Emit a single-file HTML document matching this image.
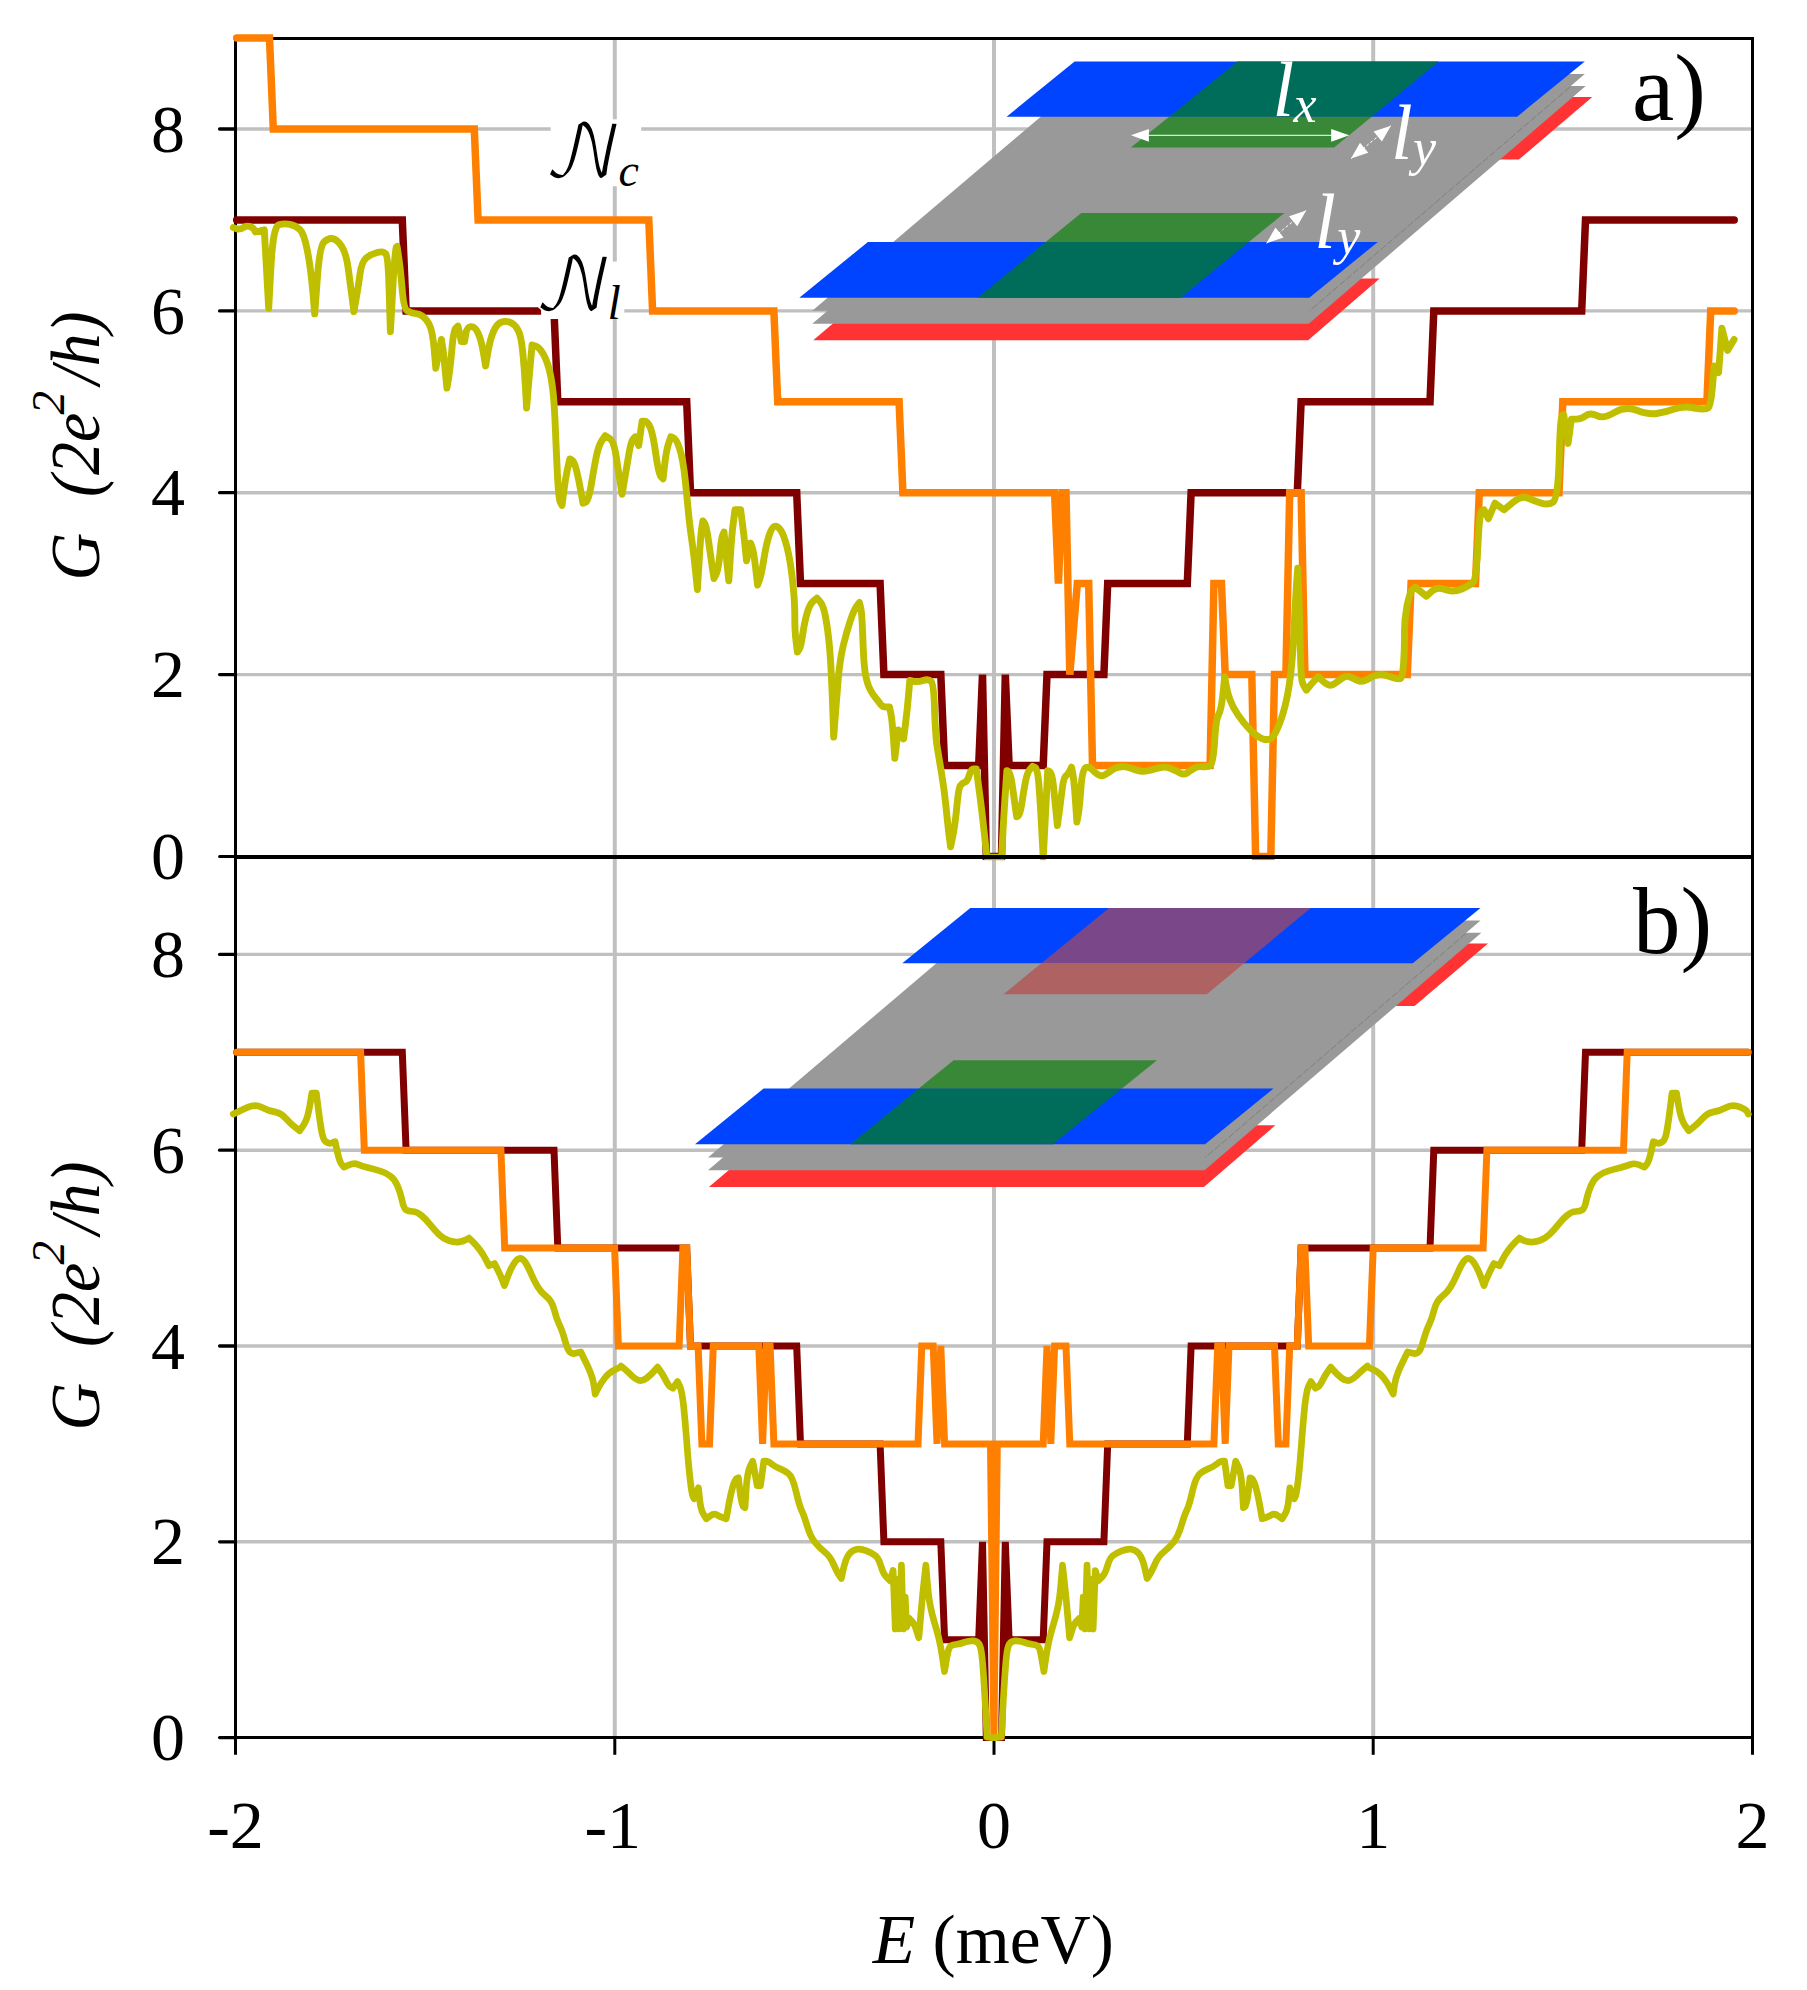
<!DOCTYPE html>
<html><head><meta charset="utf-8"><title>Conductance figure</title>
<style>
html,body{margin:0;padding:0;background:#fff;}
svg{display:block;}
text{font-family:"Liberation Serif","DejaVu Serif",serif;fill:#000;}
.it{font-style:italic;}
.cal{font-family:"DejaVu Math TeX Gyre","Liberation Serif",serif;}
.w{fill:#fff;font-style:italic;}
</style></head><body>
<svg width="1807" height="1990" viewBox="0 0 1807 1990">
<rect width="1807" height="1990" fill="#fff"/>
<g stroke="#c0c0c0" stroke-width="4" fill="none">
<line x1="614.8" y1="38.4" x2="614.8" y2="1737.6"/>
<line x1="994.0" y1="38.4" x2="994.0" y2="1737.6"/>
<line x1="1373.2" y1="38.4" x2="1373.2" y2="1737.6"/>
</g>
<g stroke="#c0c0c0" stroke-width="3.4" fill="none">
<line x1="235.5" y1="674.6" x2="1752.5" y2="674.6"/>
<line x1="235.5" y1="1541.8" x2="1752.5" y2="1541.8"/>
<line x1="235.5" y1="492.7" x2="1752.5" y2="492.7"/>
<line x1="235.5" y1="1346.0" x2="1752.5" y2="1346.0"/>
<line x1="235.5" y1="310.9" x2="1752.5" y2="310.9"/>
<line x1="235.5" y1="1150.2" x2="1752.5" y2="1150.2"/>
<line x1="235.5" y1="129.0" x2="1752.5" y2="129.0"/>
<line x1="235.5" y1="954.4" x2="1752.5" y2="954.4"/>
</g>
<g id="insetA">
<polygon points="1100.0,97.0 1592.3,97.0 1518.9,159.5 1030.0,159.5" fill="#ff3333"/>
<polygon points="886.0,278.6 1379.7,278.6 1308.2,340.3 813.2,340.3" fill="#ff3333"/>
<polygon points="812.3,323.7 1091.0,86.1 1585.7,86.1 1308.8,323.7" fill="#999999"/>
<polygon points="812.3,310.8 1091.0,73.9 1584.8,73.9 1308.8,310.8" fill="#999999"/>
<line x1="1570.0" y1="87.0" x2="1309.5" y2="311.0" stroke="#7c7c7c" stroke-width="0.9" stroke-dasharray="7 2"/>
<polygon points="1074.6,61.5 1584.8,61.5 1517.1,116.7 1006.6,116.7" fill="#0044ff"/>
<polygon points="867.9,242.0 1377.8,242.0 1309.3,297.7 799.3,297.7" fill="#0044ff"/>
<polygon points="1237.5,61.6 1438.7,61.6 1371.7,116.7 1169.2,116.7" fill="#006c5a"/>
<polygon points="1169.2,116.7 1371.7,116.7 1334.1,147.6 1130.9,147.6" fill="#388838"/>
<polygon points="1081.3,212.9 1284.4,212.9 1248.8,242.0 1045.7,242.0" fill="#388838"/>
<polygon points="1045.7,242.0 1248.8,242.0 1180.7,297.7 977.6,297.7" fill="#006c5a"/>
</g>
<g id="insetB">
<polygon points="995.7,943.6 1488.0,943.6 1414.6,1006.1 925.7,1006.1" fill="#ff3333"/>
<polygon points="781.7,1125.2 1275.4,1125.2 1203.9,1186.9 708.9,1186.9" fill="#ff3333"/>
<polygon points="708.0,1170.3 986.7,932.7 1481.4,932.7 1204.5,1170.3" fill="#999999"/>
<polygon points="708.0,1157.4 986.7,920.5 1480.5,920.5 1204.5,1157.4" fill="#999999"/>
<line x1="1465.7" y1="933.6" x2="1205.2" y2="1157.6" stroke="#7c7c7c" stroke-width="0.9" stroke-dasharray="7 2"/>
<polygon points="970.3,908.1 1480.5,908.1 1412.8,963.3 902.3,963.3" fill="#0044ff"/>
<polygon points="763.6,1088.6 1273.5,1088.6 1205.0,1144.3 695.0,1144.3" fill="#0044ff"/>
<polygon points="1109.1,908.1 1310.8,908.1 1244.1,963.3 1041.4,963.3" fill="#7a4888"/>
<polygon points="1041.4,963.3 1244.1,963.3 1206.8,994.2 1003.5,994.2" fill="#ae6262"/>
<polygon points="953.7,1060.2 1157.0,1060.2 1121.9,1088.6 918.7,1088.6" fill="#388838"/>
<polygon points="918.7,1088.6 1121.9,1088.6 1053.0,1144.3 850.2,1144.3" fill="#006c5a"/>
</g>
<g stroke="#000" stroke-width="3.0" fill="none" stroke-linecap="butt">
<line x1="235.5" y1="36.9" x2="235.5" y2="859.0"/>
<line x1="1752.5" y1="36.9" x2="1752.5" y2="859.0"/>
<line x1="235.5" y1="38.4" x2="1752.5" y2="38.4"/>
</g>
<g stroke="#000" stroke-width="3.3" fill="none" stroke-linecap="round">
<line x1="219.6" y1="674.6" x2="235.5" y2="674.6"/>
<line x1="219.6" y1="492.7" x2="235.5" y2="492.7"/>
<line x1="219.6" y1="310.9" x2="235.5" y2="310.9"/>
<line x1="219.6" y1="129.0" x2="235.5" y2="129.0"/>
</g>
<clipPath id="ct"><rect x="0" y="0" width="1807" height="860.3"/></clipPath>
<g clip-path="url(#ct)">
<path d="M236.7 220.0 L402.3 220.0 L406.1 310.9 L554.0 310.9 L557.8 401.8 L686.7 401.8 L690.5 492.7 L796.7 492.7 L800.5 583.6 L880.1 583.6 L883.9 674.6 L940.8 674.6 L944.6 765.5 L978.7 765.5 L982.5 674.6 L986.3 856.4 L1001.5 856.4 L1005.3 674.6 L1009.1 765.5 L1043.2 765.5 L1047.0 674.6 L1103.9 674.6 L1107.7 583.6 L1187.3 583.6 L1191.1 492.7 L1297.3 492.7 L1301.1 401.8 L1430.0 401.8 L1433.8 310.9 L1581.7 310.9 L1585.5 220.0 L1734.2 220.0" fill="none" stroke="#800000" stroke-width="7.5" stroke-linejoin="miter" stroke-miterlimit="3" stroke-linecap="round"/>
<path d="M236.7 38.1 L269.5 38.1 L273.3 129.0 L474.3 129.0 L478.1 220.0 L648.8 220.0 L652.6 310.9 L773.9 310.9 L777.7 401.8 L899.1 401.8 L902.9 492.7 L1054.6 492.7 L1058.4 583.6 L1062.2 492.7 L1066.0 492.7 L1069.8 674.6 L1073.5 629.1 L1077.3 583.6 L1088.7 583.6 L1092.5 765.5 L1210.1 765.5 L1213.9 583.6 L1221.5 583.6 L1225.2 674.6 L1251.8 674.6 L1255.6 856.4 L1270.8 856.4 L1274.5 674.6 L1285.9 674.6 L1289.7 492.7 L1301.1 492.7 L1304.9 674.6 L1407.3 674.6 L1411.1 583.6 L1475.5 583.6 L1479.3 492.7 L1559.0 492.7 L1562.8 401.8 L1706.9 401.8 L1710.7 310.9 L1734.2 310.9" fill="none" stroke="#ff8000" stroke-width="7.5" stroke-linejoin="miter" stroke-miterlimit="3" stroke-linecap="round"/>
<path d="M233.3 227.6 L236.6 228.7 Q239.9 229.8 243.2 227.6 L243.2 227.6 Q246.6 225.4 249.9 226.5 L249.9 226.5 Q253.2 227.6 254.3 229.8 L255.4 232.0 L264.3 229.8 L268.7 308.4 L270.9 267.4 Q273.1 226.5 278.7 224.8 L278.7 224.8 Q284.2 223.2 289.7 224.3 L289.7 224.3 Q295.3 225.4 299.7 229.3 L299.7 229.3 Q304.1 233.1 307.4 250.8 L307.4 250.8 Q310.8 268.5 312.8 291.2 L314.7 313.9 L317.2 280.2 Q319.6 246.4 324.0 242.0 L324.0 242.0 Q328.5 237.6 332.9 238.7 L332.9 238.7 Q337.3 239.8 341.7 246.4 L341.7 246.4 Q346.2 253.0 348.4 269.7 L348.4 269.7 Q350.6 286.3 352.3 299.0 L353.9 311.7 L356.1 299.0 Q358.4 286.3 360.0 274.1 L360.0 274.1 Q361.7 261.9 366.1 258.0 L366.1 258.0 Q370.5 254.2 377.2 252.5 L377.2 252.5 Q383.8 250.8 386.0 254.2 L386.0 254.2 Q388.2 257.5 389.3 294.6 L390.4 331.6 L392.7 290.1 Q394.9 248.6 396.0 247.5 L397.1 246.4 L398.7 257.5 Q400.4 268.5 402.1 288.5 L402.1 288.5 Q403.7 308.4 407.1 310.6 L407.1 310.6 Q410.4 312.8 414.8 313.4 L414.8 313.4 Q419.2 313.9 422.5 316.1 L422.5 316.1 Q425.9 318.4 429.2 324.4 L429.2 324.4 Q432.5 330.5 434.2 349.3 L435.8 368.2 L441.4 339.4 L442.5 346.0 Q443.6 352.7 445.2 370.4 L446.9 388.1 L448.6 378.1 Q450.2 368.2 451.9 349.3 L451.9 349.3 Q453.5 330.5 455.7 328.3 L458.0 326.1 L461.3 341.6 L464.6 341.6 L465.7 334.4 Q466.8 327.2 470.7 326.7 L470.7 326.7 Q474.6 326.1 477.9 332.7 L477.9 332.7 Q481.2 339.4 483.4 352.7 L485.6 365.9 L487.8 352.7 Q490.1 339.4 493.4 331.6 L493.4 331.6 Q496.7 323.9 501.1 322.2 L501.1 322.2 Q505.6 320.6 510.0 322.2 L510.0 322.2 Q514.4 323.9 517.7 329.4 L517.7 329.4 Q521.1 335.0 522.7 351.6 L522.7 351.6 Q524.4 368.2 525.5 388.1 L526.6 408.0 L528.2 388.1 Q529.9 368.2 531.0 356.5 L532.1 344.9 L535.4 346.0 Q538.8 347.1 542.1 352.1 L542.1 352.1 Q545.4 357.1 548.2 365.9 L548.2 365.9 Q550.9 374.8 552.6 388.1 L552.6 388.1 Q554.3 401.4 555.4 429.0 L555.4 429.0 Q556.5 456.7 557.6 477.7 L557.6 477.7 Q558.7 498.8 560.3 502.1 L562.0 505.4 L563.7 492.1 Q565.3 478.8 567.5 468.9 L569.8 458.9 L572.0 460.0 Q574.2 461.1 576.4 470.0 L576.4 470.0 Q578.6 478.8 580.8 491.0 L583.0 503.2 L585.8 502.1 Q588.6 501.0 591.3 484.4 L591.3 484.4 Q594.1 467.8 596.3 456.7 L596.3 456.7 Q598.5 445.6 601.8 440.7 L605.2 435.7 L609.6 438.4 Q614.0 441.2 616.4 457.8 L616.4 457.8 Q618.8 474.4 620.5 484.4 L622.1 494.3 L624.3 481.1 Q626.6 467.8 628.8 454.5 L628.8 454.5 Q631.0 441.2 633.2 439.0 L635.4 436.8 L638.7 445.6 L642.1 421.3 L644.8 421.3 Q647.6 421.3 650.4 427.9 L650.4 427.9 Q653.1 434.6 655.9 454.5 L655.9 454.5 Q658.7 474.4 660.9 476.6 L663.1 478.8 L664.7 464.4 Q666.4 450.1 668.6 443.4 L670.8 436.8 L673.6 437.9 Q676.4 439.0 679.7 449.0 L679.7 449.0 Q683.0 458.9 685.2 479.9 L685.2 479.9 Q687.4 501.0 688.5 513.1 L688.5 513.1 Q689.7 525.3 691.9 540.8 L691.9 540.8 Q694.1 556.3 695.7 572.9 L697.4 589.5 L699.1 561.8 Q700.7 534.2 701.8 527.5 L702.9 520.9 L704.6 523.1 Q706.3 525.3 708.5 540.8 L708.5 540.8 Q710.7 556.3 712.3 567.4 L714.0 578.5 L716.2 574.0 Q718.4 569.6 719.9 554.1 L719.9 554.1 Q721.3 538.6 722.6 535.3 L724.0 532.0 L725.1 544.1 Q726.2 556.3 727.5 568.5 L728.8 580.7 L730.3 557.4 Q731.7 534.2 733.4 522.0 L735.0 509.8 L740.6 509.8 L742.2 522.0 Q743.9 534.2 745.2 547.5 L746.5 560.7 L750.5 543.0 L752.2 547.5 Q753.8 551.9 755.7 568.5 L757.6 585.1 L759.6 579.6 Q761.6 574.0 763.8 559.6 L763.8 559.6 Q766.0 545.2 768.8 536.4 L768.8 536.4 Q771.6 527.5 774.3 526.4 L774.3 526.4 Q777.1 525.3 780.4 529.8 L780.4 529.8 Q783.7 534.2 787.1 547.5 L787.1 547.5 Q790.4 560.7 792.6 580.7 L792.6 580.7 Q794.8 600.6 794.8 615.7 L794.8 615.7 Q794.7 630.8 796.1 641.5 L797.4 652.1 L799.2 649.4 Q800.9 646.8 802.7 634.4 L802.7 634.4 Q804.5 622.0 807.1 613.1 L807.1 613.1 Q809.8 604.3 813.3 601.2 L816.9 598.1 L820.4 602.1 Q824.0 606.0 826.6 622.9 L826.6 622.9 Q829.3 639.7 830.6 661.8 L830.6 661.8 Q831.9 684.0 832.8 710.5 L833.7 737.1 L835.0 719.4 Q836.4 701.7 838.1 680.4 L838.1 680.4 Q839.9 659.2 843.4 645.0 L843.4 645.0 Q847.0 630.8 850.5 620.2 L850.5 620.2 Q854.1 609.6 856.7 606.0 L859.4 602.5 L860.7 607.8 Q862.0 613.1 862.9 639.7 L862.9 639.7 Q863.8 666.3 865.6 675.1 L865.6 675.1 Q867.3 684.0 870.0 689.3 L870.0 689.3 Q872.7 694.6 875.8 698.1 L875.8 698.1 Q878.9 701.7 880.6 704.3 L880.6 704.3 Q882.4 707.0 885.9 707.0 L889.5 707.0 L890.8 713.2 Q892.1 719.4 893.5 738.9 L894.8 758.3 L898.3 730.0 L903.6 738.9 L905.4 724.7 Q907.2 710.5 908.5 695.5 L909.8 680.4 L913.8 681.3 Q917.8 682.2 923.1 680.4 L923.1 680.4 Q928.4 678.6 931.1 681.3 L931.1 681.3 Q933.8 684.0 934.6 710.5 L934.6 710.5 Q935.5 737.1 937.3 747.7 L937.3 747.7 Q939.1 758.3 941.7 774.3 L941.7 774.3 Q944.4 790.2 946.1 807.9 L946.1 807.9 Q947.9 825.6 949.2 836.3 L950.6 846.9 L952.8 836.3 Q955.0 825.6 956.8 807.0 L956.8 807.0 Q958.5 788.4 960.3 785.8 L960.3 785.8 Q962.1 783.1 964.7 782.2 L964.7 782.2 Q967.4 781.4 969.2 775.2 L969.2 775.2 Q970.9 769.0 973.6 769.0 L976.3 769.0 L978.9 788.4 Q981.6 807.9 984.2 832.5 L986.9 857.1 L994.0 857.1 Q1001.0 857.1 1001.3 857.3 L1001.6 857.5 L1002.9 832.7 Q1004.3 807.9 1005.6 789.3 L1006.9 770.7 L1008.7 771.6 Q1010.5 772.5 1012.2 784.9 L1012.2 784.9 Q1014.0 797.3 1015.3 807.0 L1016.7 816.8 L1018.4 815.9 Q1020.2 815.0 1022.0 802.6 L1022.0 802.6 Q1023.8 790.2 1025.5 781.4 L1025.5 781.4 Q1027.3 772.5 1029.9 769.4 L1032.6 766.3 L1035.3 767.6 Q1037.9 769.0 1039.2 788.4 L1039.2 788.4 Q1040.6 807.9 1041.9 832.7 L1043.2 857.5 L1044.1 841.6 Q1045.0 825.6 1046.3 798.2 L1047.7 770.7 L1049.9 771.6 Q1052.1 772.5 1053.4 785.8 L1053.4 785.8 Q1054.7 799.1 1056.1 812.3 L1057.4 825.6 L1059.2 812.3 Q1060.9 799.1 1062.3 788.4 L1062.3 788.4 Q1063.6 777.8 1065.8 776.0 L1065.8 776.0 Q1068.0 774.3 1069.8 770.7 L1071.6 767.2 L1072.9 774.3 Q1074.2 781.4 1075.5 801.7 L1076.9 822.1 L1078.2 815.0 Q1079.5 807.9 1080.9 788.4 L1080.9 788.4 Q1082.2 769.0 1085.7 767.6 L1085.7 767.6 Q1089.3 766.3 1091.9 769.4 L1091.9 769.4 Q1094.6 772.5 1098.1 774.7 L1098.1 774.7 Q1101.7 776.9 1105.2 774.7 L1105.2 774.7 Q1108.8 772.5 1112.3 769.8 L1112.3 769.8 Q1115.8 767.2 1121.1 766.7 L1121.1 766.7 Q1126.5 766.3 1131.8 768.5 L1131.8 768.5 Q1137.1 770.7 1141.5 771.2 L1141.5 771.2 Q1145.9 771.6 1150.4 770.3 L1150.4 770.3 Q1154.8 769.0 1160.1 767.6 L1160.1 767.6 Q1165.4 766.3 1170.7 768.5 L1170.7 768.5 Q1176.0 770.7 1180.0 772.9 L1180.0 772.9 Q1184.0 775.2 1187.1 772.9 L1187.1 772.9 Q1190.2 770.7 1193.8 768.5 L1193.8 768.5 Q1197.3 766.3 1202.6 766.7 L1202.6 766.7 Q1207.9 767.2 1210.6 765.4 L1210.6 765.4 Q1213.2 763.6 1214.6 741.5 L1214.6 741.5 Q1215.9 719.4 1218.5 714.9 L1218.5 714.9 Q1221.2 710.5 1223.0 693.7 L1224.7 676.9 L1226.1 684.8 Q1227.4 692.8 1230.1 699.9 L1230.1 699.9 Q1232.7 707.0 1238.0 714.9 L1238.0 714.9 Q1243.3 722.9 1250.4 730.0 L1250.4 730.0 Q1257.5 737.1 1262.8 738.9 L1262.8 738.9 Q1268.1 740.6 1271.7 738.0 L1271.7 738.0 Q1275.2 735.3 1280.3 721.5 L1280.3 721.5 Q1285.5 707.6 1288.8 687.7 L1288.8 687.7 Q1292.1 667.8 1293.8 634.6 L1293.8 634.6 Q1295.4 601.4 1296.5 584.8 L1297.7 568.2 L1298.8 595.8 Q1299.9 623.5 1300.4 651.2 L1300.4 651.2 Q1301.0 678.8 1302.4 682.5 L1302.4 682.5 Q1303.8 686.1 1305.1 688.1 L1306.4 690.1 L1309.1 686.8 Q1311.7 683.4 1315.0 680.1 L1318.4 676.8 L1321.7 680.1 Q1325.0 683.4 1328.3 684.8 L1328.3 684.8 Q1331.6 686.1 1335.0 683.4 L1335.0 683.4 Q1338.3 680.8 1342.3 678.1 L1342.3 678.1 Q1346.3 675.5 1349.6 676.8 L1349.6 676.8 Q1352.9 678.1 1356.9 680.1 L1356.9 680.1 Q1360.9 682.1 1364.2 680.8 L1364.2 680.8 Q1367.5 679.5 1370.8 677.5 L1370.8 677.5 Q1374.1 675.5 1378.1 674.8 L1378.1 674.8 Q1382.1 674.1 1386.1 675.5 L1386.1 675.5 Q1390.1 676.8 1394.7 678.1 L1394.7 678.1 Q1399.4 679.5 1401.0 678.1 L1401.0 678.1 Q1402.7 676.8 1403.7 661.5 L1403.7 661.5 Q1404.7 646.3 1404.5 633.2 L1404.5 633.2 Q1404.3 620.1 1407.0 605.9 L1407.0 605.9 Q1409.8 591.7 1412.6 589.5 L1415.3 587.3 L1426.4 596.2 L1431.9 591.2 Q1437.5 586.2 1445.2 589.5 L1445.2 589.5 Q1453.0 592.8 1461.8 589.0 L1461.8 589.0 Q1470.7 585.1 1473.4 581.8 L1473.4 581.8 Q1476.2 578.5 1477.9 545.2 L1477.9 545.2 Q1479.5 512.0 1481.7 510.9 L1484.0 509.8 L1488.4 518.7 L1495.0 503.2 L1503.9 509.8 L1512.7 502.6 Q1521.6 495.4 1528.2 498.2 L1528.2 498.2 Q1534.9 501.0 1541.5 503.2 L1541.5 503.2 Q1548.2 505.4 1553.1 502.1 L1553.1 502.1 Q1558.1 498.8 1559.2 457.8 L1559.2 457.8 Q1560.3 416.9 1562.0 415.7 L1563.7 414.6 L1568.1 443.4 L1571.4 419.1 L1576.4 419.1 Q1581.4 419.1 1585.8 415.7 L1585.8 415.7 Q1590.2 412.4 1596.9 415.7 L1596.9 415.7 Q1603.5 419.1 1614.6 412.4 L1614.6 412.4 Q1625.6 405.8 1636.7 410.2 L1636.7 410.2 Q1647.8 414.6 1656.6 413.5 L1656.6 413.5 Q1665.5 412.4 1674.3 409.1 L1674.3 409.1 Q1683.2 405.8 1694.3 408.0 L1694.3 408.0 Q1705.3 410.2 1708.1 408.0 L1708.1 408.0 Q1710.9 405.8 1712.5 385.9 L1714.2 365.9 L1718.6 372.6 L1721.9 328.3 L1727.5 350.4 L1734.1 339.4" fill="none" stroke="#bfbf00" stroke-width="6.9" stroke-linejoin="round" stroke-linecap="round"/>
</g>
<rect x="550.7" y="119.3" width="90.5" height="66.9" fill="#fff"/>
<rect x="541.1" y="261.6" width="83.2" height="57.4" fill="#fff"/>
<text x="543.2" y="176.9" font-size="72" class="cal" stroke="#fff" stroke-width="1.7">&#x1D4A9;</text>
<text x="618.4" y="185.7" font-size="46" class="it">c</text>
<text x="533.6" y="309.5" font-size="72" class="cal" stroke="#fff" stroke-width="1.7">&#x1D4A9;</text>
<text x="607.4" y="319.4" font-size="48" class="it">l</text>
<line x1="235.5" y1="857" x2="1754.0" y2="857" stroke="#000" stroke-width="4"/>
<g stroke="#000" stroke-width="3.0" fill="none" stroke-linecap="round">
<line x1="219.6" y1="856.5" x2="235.5" y2="856.5"/>
</g>
<g stroke="#000" stroke-width="3.0" fill="none" stroke-linecap="butt">
<line x1="235.5" y1="857.0" x2="235.5" y2="1754.8"/>
<line x1="1752.5" y1="857.0" x2="1752.5" y2="1754.8"/>
<line x1="235.5" y1="1737.6" x2="1752.5" y2="1737.6"/>
</g>
<g stroke="#000" stroke-width="3.3" fill="none" stroke-linecap="round">
<line x1="219.6" y1="1737.6" x2="235.5" y2="1737.6"/>
<line x1="219.6" y1="1541.8" x2="235.5" y2="1541.8"/>
<line x1="219.6" y1="1346.0" x2="235.5" y2="1346.0"/>
<line x1="219.6" y1="1150.2" x2="235.5" y2="1150.2"/>
<line x1="219.6" y1="954.4" x2="235.5" y2="954.4"/>
</g>
<g stroke="#000" stroke-width="3.0" fill="none" stroke-linecap="butt">
<line x1="614.8" y1="1737.6" x2="614.8" y2="1754.8"/>
<line x1="994.0" y1="1737.6" x2="994.0" y2="1754.8"/>
<line x1="1373.2" y1="1737.6" x2="1373.2" y2="1754.8"/>
</g>
<path d="M236.7 1052.3 L402.3 1052.3 L406.1 1150.2 L554.0 1150.2 L557.8 1248.1 L686.7 1248.1 L690.5 1346.0 L796.7 1346.0 L800.5 1443.9 L880.1 1443.9 L883.9 1541.8 L940.8 1541.8 L944.6 1639.7 L978.7 1639.7 L982.5 1541.8 L986.3 1737.6 L1001.5 1737.6 L1005.3 1541.8 L1009.1 1639.7 L1043.2 1639.7 L1047.0 1541.8 L1103.9 1541.8 L1107.7 1443.9 L1187.3 1443.9 L1191.1 1346.0 L1297.3 1346.0 L1301.1 1248.1 L1430.0 1248.1 L1433.8 1150.2 L1581.7 1150.2 L1585.5 1052.3 L1748.2 1052.3" fill="none" stroke="#800000" stroke-width="7.0" stroke-linejoin="miter" stroke-miterlimit="3" stroke-linecap="round"/>
<path d="M236.7 1052.3 L360.6 1052.3 L364.3 1150.2 L500.9 1150.2 L504.7 1248.1 L614.6 1248.1 L618.4 1346.0 L679.1 1346.0 L682.9 1248.1 L686.7 1248.1 L690.5 1346.0 L698.1 1346.0 L701.9 1443.9 L709.5 1443.9 L713.3 1346.0 L758.8 1346.0 L762.6 1443.9 L766.3 1346.0 L770.1 1346.0 L773.9 1443.9 L918.0 1443.9 L921.8 1346.0 L933.2 1346.0 L937.0 1443.9 L940.8 1346.0 L944.6 1443.9 L990.5 1443.9 L993.9 1737.6 L997.3 1443.9 L1043.2 1443.9 L1047.0 1346.0 L1050.8 1443.9 L1054.6 1346.0 L1066.0 1346.0 L1069.8 1443.9 L1213.9 1443.9 L1217.7 1346.0 L1221.5 1346.0 L1225.2 1443.9 L1229.0 1346.0 L1274.5 1346.0 L1278.3 1443.9 L1285.9 1443.9 L1289.7 1346.0 L1297.3 1346.0 L1301.1 1248.1 L1304.9 1248.1 L1308.7 1346.0 L1369.4 1346.0 L1373.2 1248.1 L1483.1 1248.1 L1486.9 1150.2 L1623.5 1150.2 L1627.2 1052.3 L1748.2 1052.3" fill="none" stroke="#ff8000" stroke-width="7.0" stroke-linejoin="miter" stroke-miterlimit="3" stroke-linecap="round"/>
<path d="M233.3 1114.1 L237.7 1111.9 Q242.1 1109.7 248.8 1106.9 L248.8 1106.9 Q255.4 1104.1 262.1 1107.4 L262.1 1107.4 Q268.7 1110.8 274.8 1111.9 L274.8 1111.9 Q280.9 1113.0 285.9 1118.5 L285.9 1118.5 Q290.8 1124.0 295.3 1127.4 L299.7 1130.7 L303.6 1125.1 Q307.4 1119.6 309.7 1106.3 L311.9 1093.0 L316.3 1093.0 L318.0 1106.3 Q319.6 1119.6 321.3 1129.6 L321.3 1129.6 Q322.9 1139.5 325.7 1141.7 L325.7 1141.7 Q328.5 1144.0 331.8 1142.9 L335.1 1141.7 L337.3 1151.7 Q339.5 1161.7 341.7 1164.4 L344.0 1167.2 L348.9 1165.0 Q353.9 1162.8 357.8 1164.4 L357.8 1164.4 Q361.7 1166.1 368.3 1167.8 L368.3 1167.8 Q375.0 1169.4 380.5 1171.1 L380.5 1171.1 Q386.0 1172.7 390.4 1176.1 L390.4 1176.1 Q394.9 1179.4 397.6 1186.0 L397.6 1186.0 Q400.4 1192.7 402.1 1200.4 L402.1 1200.4 Q403.7 1208.2 405.9 1209.8 L405.9 1209.8 Q408.2 1211.5 412.6 1211.5 L412.6 1211.5 Q417.0 1211.5 421.4 1215.4 L421.4 1215.4 Q425.9 1219.2 430.3 1224.8 L430.3 1224.8 Q434.7 1230.3 439.1 1234.7 L439.1 1234.7 Q443.6 1239.1 449.1 1240.8 L449.1 1240.8 Q454.6 1242.5 459.1 1241.9 L459.1 1241.9 Q463.5 1241.4 466.3 1239.7 L469.0 1238.0 L472.9 1241.9 Q476.8 1245.8 480.1 1250.2 L480.1 1250.2 Q483.4 1254.6 486.2 1260.2 L489.0 1265.7 L494.5 1263.5 L497.8 1270.1 Q501.1 1276.8 502.8 1281.2 L504.4 1285.6 L507.2 1277.9 Q510.0 1270.1 513.3 1264.6 L513.3 1264.6 Q516.6 1259.1 519.4 1258.5 L519.4 1258.5 Q522.2 1258.0 524.9 1261.8 L524.9 1261.8 Q527.7 1265.7 531.0 1273.5 L531.0 1273.5 Q534.3 1281.2 537.7 1286.7 L537.7 1286.7 Q541.0 1292.3 546.5 1296.7 L546.5 1296.7 Q552.0 1301.1 554.3 1310.0 L554.3 1310.0 Q556.5 1318.8 559.2 1324.4 L559.2 1324.4 Q562.0 1329.9 564.8 1339.9 L564.8 1339.9 Q567.5 1349.8 569.8 1352.0 L569.8 1352.0 Q572.0 1354.3 576.4 1353.1 L580.8 1352.0 L584.1 1358.7 Q587.5 1365.3 590.2 1372.0 L590.2 1372.0 Q593.0 1378.6 594.1 1386.4 L595.2 1394.1 L598.0 1388.6 Q600.7 1383.0 605.2 1377.5 L605.2 1377.5 Q609.6 1372.0 614.8 1369.8 L614.8 1369.8 Q620.0 1367.5 620.5 1366.8 L621.0 1366.0 L624.9 1369.3 Q628.8 1372.7 632.1 1376.0 L632.1 1376.0 Q635.4 1379.3 638.7 1380.4 L638.7 1380.4 Q642.1 1381.5 646.5 1378.2 L646.5 1378.2 Q650.9 1374.9 654.2 1371.0 L657.6 1367.1 L660.3 1371.0 Q663.1 1374.9 665.9 1380.4 L665.9 1380.4 Q668.6 1385.9 670.8 1387.1 L673.0 1388.2 L677.5 1381.5 L679.7 1385.9 Q681.9 1390.4 683.6 1405.9 L683.6 1405.9 Q685.2 1421.4 686.9 1443.5 L686.9 1443.5 Q688.5 1465.6 690.2 1480.0 L690.2 1480.0 Q691.9 1494.4 693.0 1496.6 L694.1 1498.8 L698.5 1487.8 L699.6 1498.8 Q700.7 1509.9 703.5 1514.3 L706.3 1518.8 L710.1 1516.0 Q714.0 1513.2 716.8 1514.9 L716.8 1514.9 Q719.5 1516.5 722.9 1517.7 L726.2 1518.8 L728.4 1506.6 Q730.6 1494.4 732.8 1486.7 L732.8 1486.7 Q735.0 1478.9 736.7 1478.4 L738.4 1477.8 L740.0 1491.6 Q741.7 1505.5 743.3 1506.6 L745.0 1507.7 L746.1 1490.0 Q747.2 1472.3 750.0 1466.7 L752.7 1461.2 L757.2 1485.6 L760.5 1485.6 L763.8 1461.2 L766.0 1461.2 Q768.2 1461.2 771.6 1464.0 L771.6 1464.0 Q774.9 1466.7 779.3 1468.4 L779.3 1468.4 Q783.7 1470.1 788.2 1473.4 L788.2 1473.4 Q792.6 1476.7 795.9 1491.1 L795.9 1491.1 Q799.2 1505.5 801.4 1509.9 L801.4 1509.9 Q803.7 1514.3 807.0 1525.4 L807.0 1525.4 Q810.3 1536.5 814.7 1542.0 L814.7 1542.0 Q819.1 1547.5 824.7 1552.0 L824.7 1552.0 Q830.2 1556.4 833.5 1564.1 L833.5 1564.1 Q836.9 1571.9 839.1 1575.2 L841.3 1578.5 L843.5 1568.6 Q845.7 1558.6 849.0 1554.2 L849.0 1554.2 Q852.4 1549.8 856.8 1549.2 L856.8 1549.2 Q861.2 1548.6 866.7 1550.9 L866.7 1550.9 Q872.3 1553.1 875.6 1555.8 L875.6 1555.8 Q878.9 1558.6 881.1 1566.4 L881.1 1566.4 Q883.3 1574.1 886.7 1577.4 L890.0 1580.7 L893.1 1570.5 L895.3 1629.0 L897.4 1579.4 L899.1 1629.0 L901.4 1565.2 L903.4 1629.0 L905.2 1597.1 L906.6 1627.2 L909.1 1618.3 L911.7 1621.0 Q914.4 1623.6 916.6 1630.7 L918.8 1637.8 L920.6 1617.4 Q922.3 1597.1 924.1 1581.1 L925.9 1565.2 L927.2 1581.1 Q928.5 1597.1 930.3 1605.9 L930.3 1605.9 Q932.1 1614.8 934.3 1621.9 L934.3 1621.9 Q936.5 1629.0 938.7 1637.8 L938.7 1637.8 Q940.9 1646.7 942.7 1659.1 L944.5 1671.5 L946.3 1660.8 Q948.0 1650.2 949.4 1647.6 L949.4 1647.6 Q950.7 1644.9 955.5 1644.5 L955.5 1644.5 Q960.4 1644.0 964.8 1642.2 L964.8 1642.2 Q969.3 1640.5 973.7 1640.9 L973.7 1640.9 Q978.1 1641.4 979.9 1645.8 L979.9 1645.8 Q981.7 1650.2 983.0 1667.9 L983.0 1667.9 Q984.3 1685.6 985.7 1711.3 L987.0 1737.0 L990.5 1737.4 Q994.1 1737.9 997.7 1737.4 L1001.4 1737.0 L1002.7 1711.3 Q1004.1 1685.6 1005.4 1667.9 L1005.4 1667.9 Q1006.7 1650.2 1008.5 1645.8 L1008.5 1645.8 Q1010.3 1641.4 1014.7 1640.9 L1014.7 1640.9 Q1019.1 1640.5 1023.6 1642.2 L1023.6 1642.2 Q1028.0 1644.0 1032.9 1644.5 L1032.9 1644.5 Q1037.7 1644.9 1039.0 1647.6 L1039.0 1647.6 Q1040.4 1650.2 1042.1 1660.8 L1043.9 1671.5 L1045.7 1659.1 Q1047.5 1646.7 1049.7 1637.8 L1049.7 1637.8 Q1051.9 1629.0 1054.1 1621.9 L1054.1 1621.9 Q1056.3 1614.8 1058.1 1605.9 L1058.1 1605.9 Q1059.9 1597.1 1061.2 1581.1 L1062.5 1565.2 L1064.3 1581.1 Q1066.1 1597.1 1067.8 1617.4 L1069.6 1637.8 L1071.8 1630.7 Q1074.0 1623.6 1076.7 1621.0 L1079.3 1618.3 L1081.8 1627.2 L1083.2 1597.1 L1085.0 1629.0 L1087.0 1565.2 L1089.3 1629.0 L1091.0 1579.4 L1093.1 1629.0 L1095.3 1570.5 L1098.4 1580.7 L1101.7 1577.4 Q1105.1 1574.1 1107.3 1566.4 L1107.3 1566.4 Q1109.5 1558.6 1112.8 1555.8 L1112.8 1555.8 Q1116.1 1553.1 1121.7 1550.9 L1121.7 1550.9 Q1127.2 1548.6 1131.6 1549.2 L1131.6 1549.2 Q1136.0 1549.8 1139.4 1554.2 L1139.4 1554.2 Q1142.7 1558.6 1144.9 1568.6 L1147.1 1578.5 L1149.3 1575.2 Q1151.5 1571.9 1154.9 1564.1 L1154.9 1564.1 Q1158.2 1556.4 1163.7 1552.0 L1163.7 1552.0 Q1169.3 1547.5 1173.7 1542.0 L1173.7 1542.0 Q1178.1 1536.5 1181.4 1525.4 L1181.4 1525.4 Q1184.7 1514.3 1187.0 1509.9 L1187.0 1509.9 Q1189.2 1505.5 1192.5 1491.1 L1192.5 1491.1 Q1195.8 1476.7 1200.2 1473.4 L1200.2 1473.4 Q1204.7 1470.1 1209.1 1468.4 L1209.1 1468.4 Q1213.5 1466.7 1216.8 1464.0 L1216.8 1464.0 Q1220.2 1461.2 1222.4 1461.2 L1224.6 1461.2 L1227.9 1485.6 L1231.2 1485.6 L1235.7 1461.2 L1238.4 1466.7 Q1241.2 1472.3 1242.3 1490.0 L1243.4 1507.7 L1245.1 1506.6 Q1246.7 1505.5 1248.4 1491.6 L1250.0 1477.8 L1251.7 1478.4 Q1253.4 1478.9 1255.6 1486.7 L1255.6 1486.7 Q1257.8 1494.4 1260.0 1506.6 L1262.2 1518.8 L1265.5 1517.7 Q1268.9 1516.5 1271.6 1514.9 L1271.6 1514.9 Q1274.4 1513.2 1278.3 1516.0 L1282.1 1518.8 L1284.9 1514.3 Q1287.7 1509.9 1288.8 1498.8 L1289.9 1487.8 L1294.3 1498.8 L1295.4 1496.6 Q1296.5 1494.4 1298.2 1480.0 L1298.2 1480.0 Q1299.9 1465.6 1301.5 1443.5 L1301.5 1443.5 Q1303.2 1421.4 1304.8 1405.9 L1304.8 1405.9 Q1306.5 1390.4 1308.7 1385.9 L1310.9 1381.5 L1315.4 1388.2 L1317.6 1387.1 Q1319.8 1385.9 1322.5 1380.4 L1322.5 1380.4 Q1325.3 1374.9 1328.1 1371.0 L1330.8 1367.1 L1334.2 1371.0 Q1337.5 1374.9 1341.9 1378.2 L1341.9 1378.2 Q1346.3 1381.5 1349.7 1380.4 L1349.7 1380.4 Q1353.0 1379.3 1356.3 1376.0 L1356.3 1376.0 Q1359.6 1372.7 1363.5 1369.3 L1367.4 1366.0 L1367.9 1366.8 Q1368.4 1367.5 1373.6 1369.8 L1373.6 1369.8 Q1378.8 1372.0 1383.2 1377.5 L1383.2 1377.5 Q1387.7 1383.0 1390.4 1388.6 L1393.2 1394.1 L1394.3 1386.4 Q1395.4 1378.6 1398.2 1372.0 L1398.2 1372.0 Q1400.9 1365.3 1404.3 1358.7 L1407.6 1352.0 L1412.0 1353.1 Q1416.4 1354.3 1418.6 1352.0 L1418.6 1352.0 Q1420.9 1349.8 1423.6 1339.9 L1423.6 1339.9 Q1426.4 1329.9 1429.2 1324.4 L1429.2 1324.4 Q1431.9 1318.8 1434.1 1310.0 L1434.1 1310.0 Q1436.4 1301.1 1441.9 1296.7 L1441.9 1296.7 Q1447.4 1292.3 1450.7 1286.7 L1450.7 1286.7 Q1454.1 1281.2 1457.4 1273.5 L1457.4 1273.5 Q1460.7 1265.7 1463.5 1261.8 L1463.5 1261.8 Q1466.2 1258.0 1469.0 1258.5 L1469.0 1258.5 Q1471.8 1259.1 1475.1 1264.6 L1475.1 1264.6 Q1478.4 1270.1 1481.2 1277.9 L1484.0 1285.6 L1485.6 1281.2 Q1487.3 1276.8 1490.6 1270.1 L1493.9 1263.5 L1499.4 1265.7 L1502.2 1260.2 Q1505.0 1254.6 1508.3 1250.2 L1508.3 1250.2 Q1511.6 1245.8 1515.5 1241.9 L1519.4 1238.0 L1522.1 1239.7 Q1524.9 1241.4 1529.3 1241.9 L1529.3 1241.9 Q1533.8 1242.5 1539.3 1240.8 L1539.3 1240.8 Q1544.8 1239.1 1549.3 1234.7 L1549.3 1234.7 Q1553.7 1230.3 1558.1 1224.8 L1558.1 1224.8 Q1562.5 1219.2 1567.0 1215.4 L1567.0 1215.4 Q1571.4 1211.5 1575.8 1211.5 L1575.8 1211.5 Q1580.2 1211.5 1582.5 1209.8 L1582.5 1209.8 Q1584.7 1208.2 1586.3 1200.4 L1586.3 1200.4 Q1588.0 1192.7 1590.8 1186.0 L1590.8 1186.0 Q1593.5 1179.4 1598.0 1176.1 L1598.0 1176.1 Q1602.4 1172.7 1607.9 1171.1 L1607.9 1171.1 Q1613.4 1169.4 1620.1 1167.8 L1620.1 1167.8 Q1626.7 1166.1 1630.6 1164.4 L1630.6 1164.4 Q1634.5 1162.8 1639.5 1165.0 L1644.4 1167.2 L1646.7 1164.4 Q1648.9 1161.7 1651.1 1151.7 L1653.3 1141.7 L1656.6 1142.9 Q1659.9 1144.0 1662.7 1141.7 L1662.7 1141.7 Q1665.5 1139.5 1667.1 1129.6 L1667.1 1129.6 Q1668.8 1119.6 1670.4 1106.3 L1672.1 1093.0 L1676.5 1093.0 L1678.7 1106.3 Q1681.0 1119.6 1684.8 1125.1 L1688.7 1130.7 L1693.1 1127.4 Q1697.6 1124.0 1702.5 1118.5 L1702.5 1118.5 Q1707.5 1113.0 1713.6 1111.9 L1713.6 1111.9 Q1719.7 1110.8 1726.3 1107.4 L1726.3 1107.4 Q1733.0 1104.1 1739.6 1106.9 L1739.6 1106.9 Q1746.3 1109.7 1747.3 1111.9 L1748.3 1114.1" fill="none" stroke="#bfbf00" stroke-width="6.7" stroke-linejoin="round" stroke-linecap="round"/>
<text x="185" y="879.0" font-size="68" text-anchor="end">0</text>
<text x="185" y="697.2" font-size="68" text-anchor="end">2</text>
<text x="185" y="515.3" font-size="68" text-anchor="end">4</text>
<text x="185" y="333.5" font-size="68" text-anchor="end">6</text>
<text x="185" y="151.6" font-size="68" text-anchor="end">8</text>
<text x="185" y="1760.2" font-size="68" text-anchor="end">0</text>
<text x="185" y="1564.4" font-size="68" text-anchor="end">2</text>
<text x="185" y="1368.6" font-size="68" text-anchor="end">4</text>
<text x="185" y="1172.8" font-size="68" text-anchor="end">6</text>
<text x="185" y="977.0" font-size="68" text-anchor="end">8</text>
<text x="235.5" y="1848.4" font-size="68" text-anchor="middle">-2</text>
<text x="612.8" y="1848.4" font-size="68" text-anchor="middle">-1</text>
<text x="994.0" y="1848.4" font-size="68" text-anchor="middle">0</text>
<text x="1373.2" y="1848.4" font-size="68" text-anchor="middle">1</text>
<text x="1752.5" y="1848.4" font-size="68" text-anchor="middle">2</text>
<text x="993.3" y="1962.5" font-size="69.5" text-anchor="middle"><tspan class="it">E</tspan> (meV)</text>
<text transform="translate(98.5,580.5) rotate(-90) scale(1,1.07)" font-size="66" class="it">G</text>
<text transform="translate(98.5,497.0) rotate(-90) scale(1,1.07)" font-size="66" class="it">(2e</text>
<text transform="translate(63.7,414.5) rotate(-90) scale(1,1.00)" font-size="47" class="it">2</text>
<text transform="translate(98.5,384.8) rotate(-90) scale(1,1.07)" font-size="66" class="it">/h)</text>
<text transform="translate(98.5,1430.5) rotate(-90) scale(1,1.07)" font-size="66" class="it">G</text>
<text transform="translate(98.5,1347.0) rotate(-90) scale(1,1.07)" font-size="66" class="it">(2e</text>
<text transform="translate(63.7,1264.5) rotate(-90) scale(1,1.00)" font-size="47" class="it">2</text>
<text transform="translate(98.5,1234.8) rotate(-90) scale(1,1.07)" font-size="66" class="it">/h)</text>
<text x="1632.1" y="119.5" font-size="95">a)</text>
<text x="1633.1" y="952.6" font-size="95">b)</text>
<g id="annot">
<line x1="1140" y1="135.3" x2="1340" y2="135.3" stroke="#fff" stroke-width="1"/>
<polygon points="1130.9,135.3 1148.9,128.9 1148.9,141.7" fill="#fff"/>
<polygon points="1349.2,135.3 1331.2,141.7 1331.2,128.9" fill="#fff"/>
<line x1="1351.0" y1="158.6" x2="1390.9" y2="125.7" stroke="#fff" stroke-width="1" stroke-dasharray="3 2"/>
<polygon points="1390.9,125.7 1381.9,141.5 1373.6,131.5" fill="#fff"/>
<polygon points="1351.0,158.6 1360.0,142.8 1368.3,152.8" fill="#fff"/>
<line x1="1266.4" y1="243.3" x2="1306.2" y2="210.4" stroke="#fff" stroke-width="1" stroke-dasharray="3 2"/>
<polygon points="1306.2,210.4 1297.2,226.2 1289.0,216.2" fill="#fff"/>
<polygon points="1266.4,243.3 1275.4,227.5 1283.6,237.5" fill="#fff"/>
<text x="1272.4" y="115.7" font-size="78" class="w">l</text>
<text x="1293.5" y="121.7" font-size="52" class="w">x</text>
<text x="1391.0" y="158.6" font-size="78" class="w">l</text>
<text x="1413.0" y="164.6" font-size="52" class="w">y</text>
<text x="1314.3" y="248.2" font-size="78" class="w">l</text>
<text x="1337.2" y="254.2" font-size="52" class="w">y</text>
</g>
</svg></body></html>
